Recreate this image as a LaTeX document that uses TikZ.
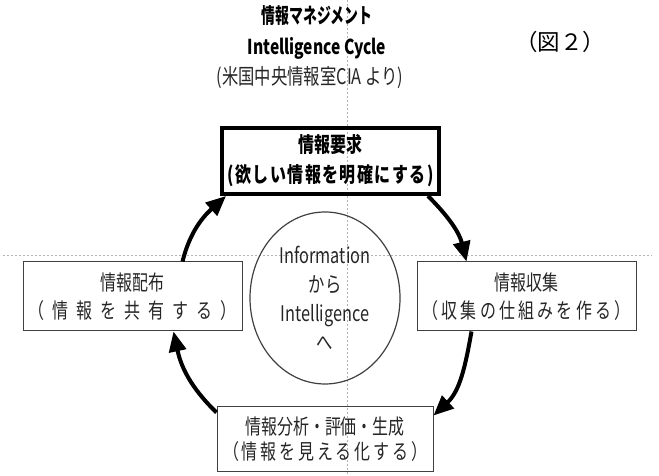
\documentclass[tikz,border=0pt]{standalone}
\usepackage{fontspec}
\usetikzlibrary{arrows.meta,shapes.geometric}
\newfontfamily\jp[FakeStretch=0.76]{Noto Sans CJK JP}
\newfontfamily\jpn[FakeStretch=0.66]{Noto Sans CJK JP}
\newfontfamily\zufont{Noto Sans CJK JP}
\newcommand\spreadtxt[2]{\makebox[#1][s]{#2}}
\begin{document}
\begin{tikzpicture}[x=1pt,y=1pt,
  box/.style={draw=black!75, line width=1pt, minimum width=219pt, minimum height=69pt,
    inner sep=0pt, align=center, text=black!85, font=\jp\fontsize{21}{28}\selectfont},
  topbox/.style={box, draw=black, line width=4pt, minimum width=217pt, minimum height=66pt, text=black, font=\jp\bfseries\fontsize{21}{30}\selectfont},
  hub/.style={ellipse, draw=black!75, line width=1.2pt, minimum width=150pt, minimum height=172pt,
    inner sep=0pt, align=center, text=black!85, font=\jp\fontsize{21.5}{29}\selectfont},
  cyc/.style={line width=4pt, -{Triangle[length=20pt,width=17pt]}},
  guide/.style={draw=black!30, dash pattern=on 2pt off 2pt, line width=0.8pt},
  ttl/.style={inner sep=0pt, text=black, font=\jp\bfseries\fontsize{20.5}{22}\selectfont},
  ttlj/.style={inner sep=0pt, text=black, font=\jpn\bfseries\fontsize{21}{22}\selectfont},
  sub/.style={inner sep=0pt, text=black!85, font=\jp\fontsize{21.5}{22}\selectfont}]
\useasboundingbox (0,0) rectangle (659,476);
% guide lines
\coordinate (vt) at (347,476);
\coordinate (vb) at (347,0);
\coordinate (hl) at (3,221);
\coordinate (hr) at (652,221);
\draw[guide] (vt) -- (vb);
\draw[guide] (hl) -- (hr);
% titles
\node[ttlj] (t1) at (317,460) {情報マネジメント};
\node[ttl] (t2) at (317,428) {Intelligence Cycle};
\node[sub] (t3) at (310,398) {(米国中央情報室CIA より)};
\node[inner sep=0pt, font=\zufont\fontsize{22.5}{24}\selectfont] (fig) at (560,434) {（図２）};
% boxes
\node[topbox] (top) at (330.5,315) {情報要求\\\spreadtxt{206pt}{(\hfil 欲\hfil し\hfil い\hfil 情\hfil 報\hfil を\hfil 明\hfil 確\hfil に\hfil す\hfil る\hfil )}};
\node[box] (left) at (132.5,179.5) {情報配布\\\spreadtxt{208pt}{（\hfill 情\hfill 報\hfill を\hfill 共\hfill 有\hfill す\hfill る\hfill ）}};
\node[box] (right) at (526.5,179.5) {情報収集\\\spreadtxt{208pt}{（\hfill 収\hfill 集\hfill の\hfill 仕\hfill 組\hfill み\hfill を\hfill 作\hfill る\hfill ）}};
\node[box, minimum width=216pt, minimum height=65pt] (bot) at (325,36.5) {情報分析・評価・生成\\[-3pt]\spreadtxt{204pt}{（\hfill 情\hfill 報\hfill を\hfill 見\hfill え\hfill る\hfill 化\hfill す\hfill る\hfill ）}};
% hub
\node[hub] (hub) at (325,178) {Information\\から\\Intelligence\\へ};
% cycle arrows
\draw[cyc] ([xshift=-13pt]top.south east) to[out=-45,in=104] ([xshift=50pt]right.north west);
\draw[cyc] ([xshift=55pt]right.south west) to[out=-100,in=43] ([yshift=-9pt]bot.north east);
\draw[cyc] ([yshift=-6pt]bot.north west) to[out=136,in=-78] ([xshift=-69pt]left.south east);
\draw[cyc] ([xshift=160pt]left.north west) to[out=76,in=-138] ([xshift=6pt]top.south west);
\end{tikzpicture}
\end{document}
